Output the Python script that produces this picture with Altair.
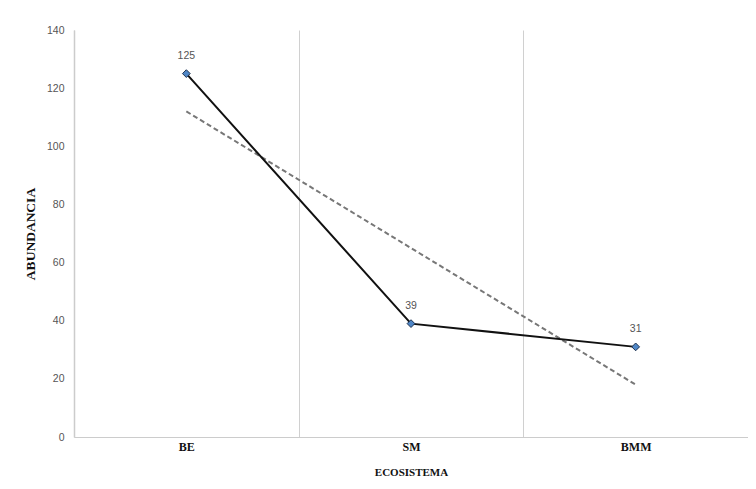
import altair as alt
import pandas as pd
import numpy as np

ecosistemas = ["BE", "SM", "BMM"]
abundancia = [125, 39, 31]

idx = np.arange(1, len(abundancia) + 1)
slope, intercept = np.polyfit(idx, abundancia, 1)
trend = [float(slope * i + intercept) for i in idx]

df = pd.DataFrame({"eco": ecosistemas, "ab": abundancia, "trend": trend})

x = alt.X("eco:N", sort=ecosistemas, title="ECOSISTEMA",
          scale=alt.Scale(paddingInner=0, paddingOuter=0),
          axis=alt.Axis(labelAngle=0, tickBand="extent", grid=True, gridColor="#d0d0d0",
                        ticks=False, domainColor="#cccccc", labelFont="Liberation Serif",
                        labelFontWeight="bold", labelFontSize=12, labelColor="#111111",
                        labelPadding=4, titleFont="Liberation Serif", titleFontSize=11,
                        titleFontWeight="bold", titleColor="#111111", titlePadding=14))
y = alt.Y("ab:Q", title="ABUNDANCIA",
          scale=alt.Scale(domain=[0, 140], nice=False),
          axis=alt.Axis(values=list(range(0, 141, 20)), grid=False, ticks=False,
                        domainColor="#cccccc", domainWidth=1.5, labelFont="Liberation Sans",
                        labelFontSize=10.5, labelColor="#555555", labelPadding=10,
                        titleFont="Liberation Serif", titleFontSize=13.5, titleFontWeight="bold",
                        titleColor="#111111", titlePadding=9))

base = alt.Chart(df)
trend_line = base.mark_line(color="#777777", strokeDash=[5, 3], strokeWidth=2).encode(
    x=x, y=alt.Y("trend:Q", scale=alt.Scale(domain=[0, 140], nice=False)))
line = base.mark_line(color="#111111", strokeWidth=2).encode(x=x, y=y)
pts = base.mark_point(shape="diamond", filled=True, fill="#4f86c6", stroke="#1f3350",
                      strokeWidth=1, size=60, opacity=1).encode(x=x, y=y)
labels = base.mark_text(dy=-18, font="Liberation Sans", fontSize=10.5, color="#555555").encode(
    x=x, y=y, text="ab:Q")

chart = alt.layer(trend_line, line, pts, labels).properties(
    width=674, height=407,
    autosize=alt.AutoSizeParams(type="none"),
    padding={"left": 66, "top": 22, "right": 0, "bottom": 44},
).configure_view(stroke=None)

chart.save("out.html", embed_options={"renderer": "svg", "actions": False})
